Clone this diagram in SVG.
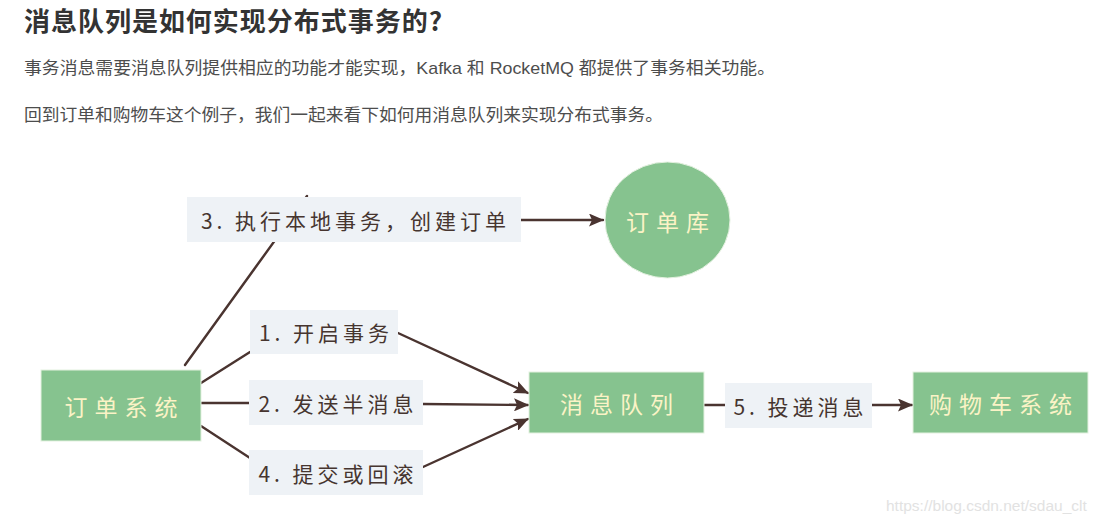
<svg xmlns="http://www.w3.org/2000/svg" width="1101" height="521" viewBox="0 0 1101 521">
  <defs>
    <marker id="ah" viewBox="0 0 15 13" refX="14" refY="6.5" markerWidth="15" markerHeight="13" markerUnits="userSpaceOnUse" orient="auto">
      <path d="M0,0 L15,6.5 L0,13 L3,6.5 Z" fill="#4a3430"/>
    </marker>
    <style>
      .h{font-family:"Noto Sans CJK SC","Liberation Sans",sans-serif;font-weight:700;font-size:26px;fill:#333}
      .p{font-family:"Liberation Sans","Noto Sans CJK SC",sans-serif;font-size:17px;fill:#4d4d4d}
      .g{fill:#86c38f;stroke:#e4f1e0;stroke-width:1}
      .lb{fill:#eef2f6}
      .gt{font-family:"Noto Sans CJK SC",sans-serif;font-size:23px;fill:#fbf3c6;text-anchor:middle;dominant-baseline:central;letter-spacing:7px}
      .lt{font-family:"Noto Sans CJK SC",sans-serif;font-size:21px;fill:#46352f;text-anchor:middle;dominant-baseline:central;letter-spacing:4px}
      .c{fill:none;stroke:#4a3430;stroke-width:2.4;stroke-linecap:round}
      .wm{font-family:"Liberation Sans",sans-serif;font-size:15.5px;fill:#e2e2e2}
    </style>
  </defs>
  <rect width="1101" height="521" fill="#ffffff"/>

  <g id="text-header">
    <text class="h" x="24" y="31" textLength="418" lengthAdjust="spacing">消息队列是如何实现分布式事务的?</text>
    <text class="p" x="24" y="74" textLength="751" lengthAdjust="spacingAndGlyphs">事务消息需要消息队列提供相应的功能才能实现，Kafka 和 RocketMQ 都提供了事务相关功能。</text>
    <text class="p" x="24" y="121" textLength="639" lengthAdjust="spacingAndGlyphs">回到订单和购物车这个例子，我们一起来看下如何用消息队列来实现分布式事务。</text>
  </g>

  <g id="connectors">
    <line class="c" x1="185" y1="365" x2="307" y2="196" stroke-width="1.6"/>
    <line class="c" x1="521" y1="220" x2="603" y2="220" marker-end="url(#ah)"/>
    <line class="c" x1="201" y1="383" x2="250" y2="352"/>
    <line class="c" x1="398" y1="333" x2="528" y2="393" marker-end="url(#ah)"/>
    <line class="c" x1="201" y1="403" x2="249" y2="403"/>
    <line class="c" x1="423" y1="404" x2="528" y2="405" marker-end="url(#ah)"/>
    <line class="c" x1="201" y1="426" x2="250" y2="458"/>
    <line class="c" x1="423" y1="467" x2="528" y2="419" marker-end="url(#ah)"/>
    <line class="c" x1="704" y1="405" x2="725" y2="405"/>
    <line class="c" x1="872" y1="405" x2="912" y2="405" marker-end="url(#ah)"/>
  </g>

  <g id="label-3">
    <rect class="lb" x="187" y="197" width="334" height="45"/>
    <text class="lt" x="355.5" y="220">3. 执行本地事务，创建订单</text>
  </g>
  <g id="label-1">
    <rect class="lb" x="250" y="310" width="148" height="44"/>
    <text class="lt" x="326" y="332">1. 开启事务</text>
  </g>
  <g id="label-2">
    <rect class="lb" x="249" y="380" width="174" height="45"/>
    <text class="lt" x="338" y="403">2. 发送半消息</text>
  </g>
  <g id="label-4">
    <rect class="lb" x="249" y="450" width="174" height="45"/>
    <text class="lt" x="338" y="473">4. 提交或回滚</text>
  </g>
  <g id="label-5">
    <rect class="lb" x="725" y="383" width="147" height="45"/>
    <text class="lt" x="800.5" y="406">5. 投递消息</text>
  </g>

  <g id="node-order-system">
    <rect class="g" x="41" y="370" width="160" height="71"/>
    <text class="gt" x="124.5" y="406">订单系统</text>
  </g>
  <g id="node-order-db">
    <ellipse class="g" cx="667.5" cy="220" rx="62.5" ry="58"/>
    <text class="gt" x="671" y="221">订单库</text>
  </g>
  <g id="node-mq">
    <rect class="g" x="529" y="372" width="175" height="61"/>
    <text class="gt" x="620" y="403">消息队列</text>
  </g>
  <g id="node-cart-system">
    <rect class="g" x="913" y="372" width="175" height="61"/>
    <text class="gt" x="1004" y="403">购物车系统</text>
  </g>

  <g id="watermark">
    <text class="wm" x="886" y="511">https://blog.csdn.net/sdau_clt</text>
  </g>
</svg>
